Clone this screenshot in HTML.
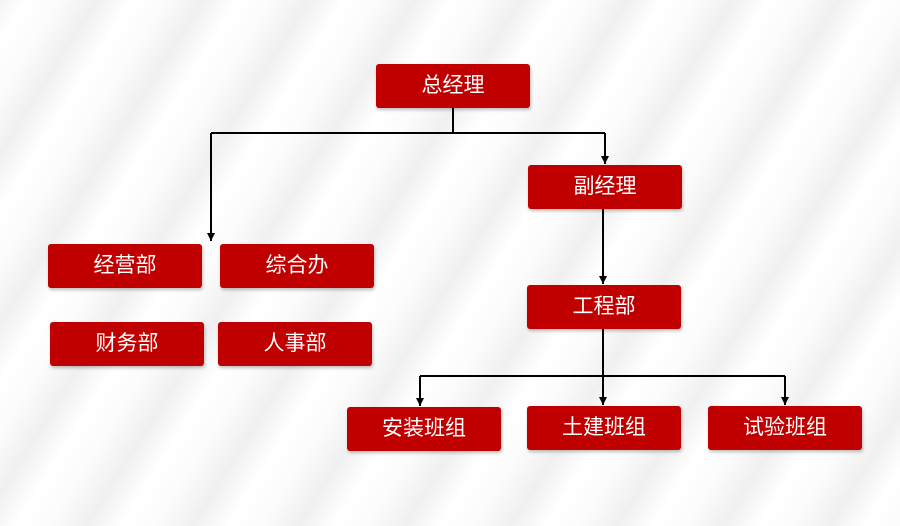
<!DOCTYPE html>
<html><head><meta charset="utf-8"><style>
body{margin:0;width:900px;height:526px;overflow:hidden;position:relative;
background:repeating-linear-gradient(-58deg,#fbfbfb 0px,#ffffff 30px,#f0f0f0 60px,#fbfbfb 90px);
font-family:"Liberation Sans","Noto Sans CJK SC",sans-serif;}
.b{position:absolute;width:154px;height:44px;background:#c00000;border-radius:3px;color:#fff;font-size:21px;line-height:44px;text-align:center;box-shadow:1px 2px 3px rgba(0,0,0,.25)}
svg{position:absolute;left:0;top:0}
</style></head><body>
<svg width="900" height="526">
<defs><marker id="a" markerWidth="9" markerHeight="9" refX="8" refY="4" orient="auto" markerUnits="userSpaceOnUse"><path d="M0,0 L8,4 L0,8 z" fill="#000"/></marker></defs>
<g stroke="#000" stroke-width="2" fill="none">
<path d="M453,108 V133 M211,133 H605"/>
<path d="M211,133 V241" marker-end="url(#a)"/>
<path d="M605,133 V164" marker-end="url(#a)"/>
<path d="M603,209 V284" marker-end="url(#a)"/>
<path d="M603,329 V376 M420,376 H785"/>
<path d="M420,376 V406" marker-end="url(#a)"/>
<path d="M603,376 V405" marker-end="url(#a)"/>
<path d="M785,376 V405" marker-end="url(#a)"/>
</g></svg>
<div class="b" style="left:376px;top:64px">总经理</div>
<div class="b" style="left:528px;top:165px">副经理</div>
<div class="b" style="left:527px;top:285px">工程部</div>
<div class="b" style="left:48px;top:244px">经营部</div>
<div class="b" style="left:220px;top:244px">综合办</div>
<div class="b" style="left:50px;top:322px">财务部</div>
<div class="b" style="left:218px;top:322px">人事部</div>
<div class="b" style="left:347px;top:407px">安装班组</div>
<div class="b" style="left:527px;top:406px">土建班组</div>
<div class="b" style="left:708px;top:406px">试验班组</div>
</body></html>
